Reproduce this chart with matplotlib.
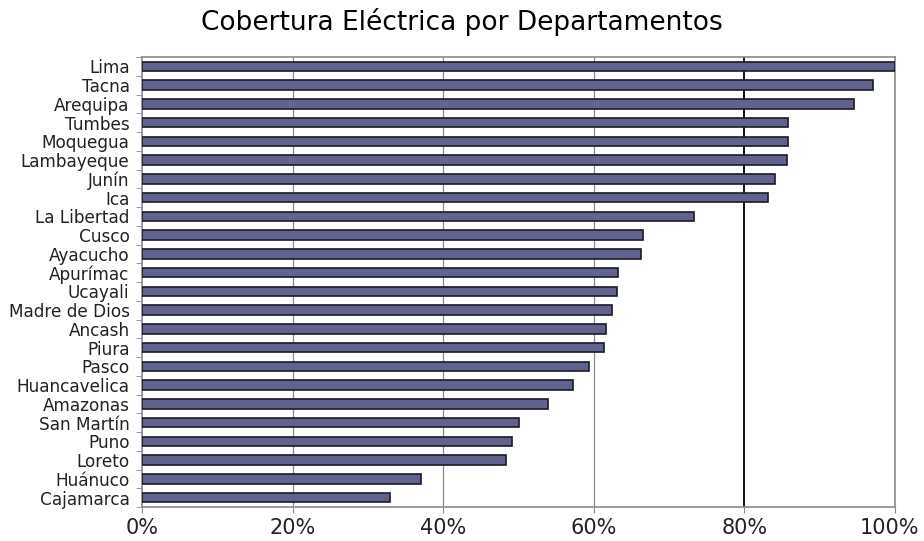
import numpy as np
import matplotlib.pyplot as plt
import matplotlib.transforms as mtransforms
from matplotlib.ticker import FixedLocator, PercentFormatter

departamentos = ["Lima", "Tacna", "Arequipa", "Tumbes", "Moquegua", "Lambayeque",
                 "Junín", "Ica", "La Libertad", "Cusco", "Ayacucho", "Apurímac",
                 "Ucayali", "Madre de Dios", "Ancash", "Piura", "Pasco",
                 "Huancavelica", "Amazonas", "San Martín", "Puno", "Loreto",
                 "Huánuco", "Cajamarca"]
cobertura = [100.0, 97.1, 94.6, 85.8, 85.8, 85.7, 84.1, 83.1, 73.3, 66.5, 66.3,
             63.2, 63.1, 62.4, 61.6, 61.4, 59.4, 57.2, 53.9, 50.1, 49.1, 48.3,
             37.1, 32.9]
x_ticks = [0, 20, 40, 60, 80, 100]

fig = plt.figure(figsize=(9.24, 5.41), dpi=100)
ax = fig.add_axes([0.1537, 0.0628, 0.8149, 0.8318])

y = np.arange(len(departamentos))
ax.barh(y, cobertura, height=0.5, color="#62628f", edgecolor="#1a1a2a",
        linewidth=1.2, zorder=3)

ax.set_xlim(0, 100)
ax.set_ylim(len(departamentos) - 0.5, -0.5)

# grid lines, the 80% line is drawn darker
for xv in x_ticks[1:-1]:
    if xv == 80:
        ax.axvline(xv, color="#111111", lw=1.4, zorder=2)
    else:
        ax.axvline(xv, color="#8a8a8a", lw=0.9, zorder=1)

ax.set_xticks(x_ticks)
ax.xaxis.set_major_formatter(PercentFormatter(decimals=0))
ax.tick_params(axis="x", length=4, color="#8a8a8a", labelsize=15, pad=4,
               labelcolor="#222222")

# keep the "100%" label inside the figure
fig.canvas.draw()
last = ax.get_xticklabels()[-1]
last.set_transform(last.get_transform() +
                   mtransforms.ScaledTranslation(-6 / 100, 0, fig.dpi_scale_trans))

ax.set_yticks(y)
ax.set_yticklabels(departamentos, fontsize=12.2, color="#222222")
ax.tick_params(axis="y", which="major", length=0, pad=9)
ax.yaxis.set_minor_locator(FixedLocator(np.arange(len(departamentos) + 1) - 0.5))
ax.tick_params(axis="y", which="minor", length=4, color="#8a8a8a")

for s in ax.spines.values():
    s.set_color("#8a8a8a")
    s.set_linewidth(1.2)

fig.suptitle("Cobertura Eléctrica por Departamentos", fontsize=19, x=0.5, y=0.985)

fig.savefig("out.png", dpi=100)
